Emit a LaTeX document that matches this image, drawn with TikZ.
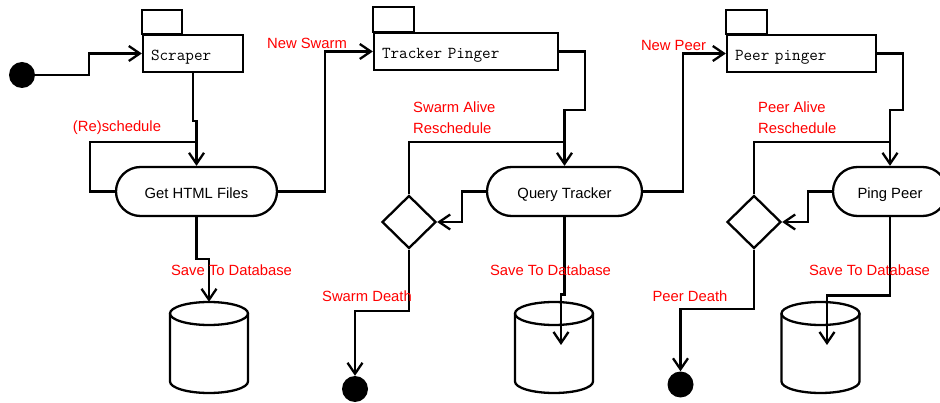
\documentclass[tikz,border=0pt]{standalone}
\usepackage{fontspec}
\setmainfont{Liberation Sans}
\usetikzlibrary{arrows.meta,shapes.geometric,shapes.misc}
\definecolor{lblred}{RGB}{255,0,0}
\tikzset{
  ln/.style={line width=2.3pt, line join=miter},
  arr/.style={ln, -{Straight Barb[length=11pt,width=15pt,line width=2.3pt]}},
  comp/.style={draw, ln, rectangle, minimum height=37pt, inner sep=0pt, text height=15pt, text depth=0pt, font=\ttfamily\fontsize{16.7}{18}\selectfont, align=left},
  act/.style={draw, ln, rounded rectangle, minimum height=49pt, inner sep=0pt, text height=15pt, text depth=0pt, font=\fontsize{14.8}{17}\selectfont},
  dec/.style={draw, ln, diamond, minimum width=54pt, minimum height=53pt, inner sep=0pt},
  dot/.style={circle, fill=black, minimum size=26pt, inner sep=0pt},
  dbase/.style={rectangle, minimum width=78pt, minimum height=91pt, inner sep=0pt},
  lbl/.style={text=lblred, font=\fontsize{14.8}{21}\selectfont, inner sep=0pt},
}
\newcommand{\drawdb}[1]{%
  \draw[ln] (#1.center) ++(0,-34) ellipse [x radius=39, y radius=11.5];
  \draw[ln] (#1.center) ++(-39,-34) -- ++(0,68) arc[start angle=180, end angle=0, x radius=39, y radius=11.5] -- ++(0,-68);
}
\begin{document}
\begin{tikzpicture}[x=1pt,y=-1pt]
\useasboundingbox (0,0) rectangle (940,403);
\clip (0,0) rectangle (940,403);
% nodes
\node[dot] (start) at (22,75) {};
\node[comp, minimum width=100pt, text width=84pt] (scraper) at (193,53.5) {Scraper};
\node[comp, minimum width=184pt, text width=168pt] (tracker) at (466,51.5) {Tracker Pinger};
\node[comp, minimum width=149pt, text width=133pt] (peer) at (801.5,53.5) {Peer pinger};
\draw[ln] (scraper.north west) rectangle ++(40,-24);
\draw[ln] (tracker.north west) rectangle ++(41,-25);
\draw[ln] (peer.north west) rectangle ++(41,-24);
\node[act, minimum width=161pt] (get) at (196.5,191.5) {Get HTML Files};
\node[act, minimum width=155pt] (query) at (564.5,191.5) {Query Tracker};
\node[act, minimum width=114pt] (ping) at (890,191.5) {Ping Peer};
\node[dec] (d1) at (409,222) {};
\node[dec] (d2) at (754,222) {};
\node[dot] (end1) at (355,389) {};
\node[dot] (end2) at (680.5,384.5) {};
\node[dbase] (db1) at (209,347.5) {};
\node[dbase] (db2) at (554,347.5) {};
\node[dbase] (db3) at (820.5,347.5) {};
\drawdb{db1}
\drawdb{db2}
\drawdb{db3}
\coordinate (db2in) at (561,345);
\coordinate (db3in) at (827,345);
% connectors
\draw[arr] (start.east) -- (89,75) |- (scraper.west);
\draw[arr] (scraper.south) -- ++(0,48) -| (get.north);
\draw[ln] (get.west) -| (90,142) -- (get.north |- 0,142);
\draw[arr] (get.south) -- ++(0,42) -| (db1.north);
\draw[arr] (get.east) -- (325,191.5) |- (tracker.west);
\draw[arr] (tracker.east) -| (585,110) -| (query.north);
\draw[ln] (d1.north) |- (query.north |- 0,142);
\draw[arr] (query.west) -- (462,191.5) |- (d1.east);
\draw[arr] (d1.south) -- (409,311) -| (end1.north);
\draw[arr] (query.south) -- ++(0,77.5) -| (db2in);
\draw[arr] (query.east) -- (683,191.5) |- (peer.west);
\draw[arr] (peer.east) -| (903,110) -| (ping.north);
\draw[ln] (d2.north) |- (ping.north |- 0,142);
\draw[arr] (ping.west) -- (808,191.5) |- (d2.east);
\draw[arr] (d2.south) -- (754,309) -| (end2.north);
\draw[arr] (ping.south) -- ++(0,78.5) -| (db3in);
% labels
\node[lbl] (l1) at (117,128) {(Re)schedule};
\node[lbl] (l2) at (307,43) {New Swarm};
\node[lbl] (l3) at (231.5,270) {Save To Database};
\node[lbl, anchor=west, align=left] (l4) at (413,118) {Swarm Alive\\Reschedule};
\node[lbl] (l5) at (367,296) {Swarm Death};
\node[lbl] (l6) at (550.5,270) {Save To Database};
\node[lbl] (l7) at (673.5,45) {New Peer};
\node[lbl, anchor=west, align=left] (l8) at (758,117.5) {Peer Alive\\Reschedule};
\node[lbl] (l9) at (690,296) {Peer Death};
\node[lbl] (l10) at (869.5,270) {Save To Database};
\end{tikzpicture}
\end{document}
